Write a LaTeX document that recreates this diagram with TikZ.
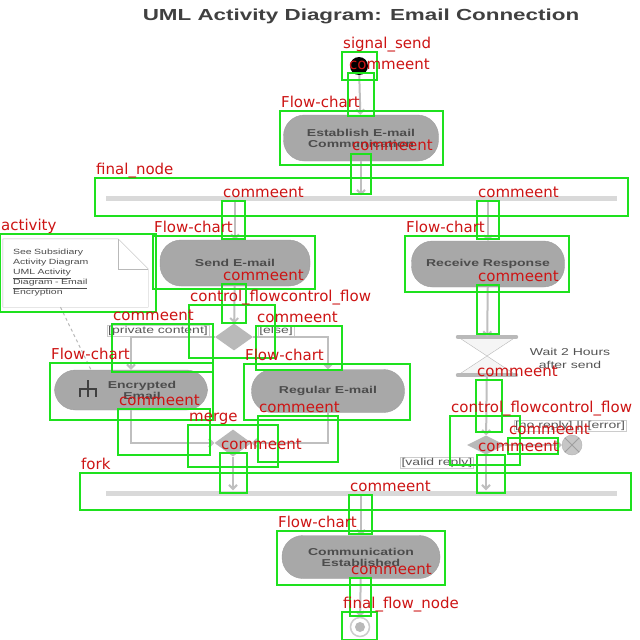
\documentclass[tikz,border=0pt]{standalone}
\usepackage{fontspec}
\setmainfont{Liberation Sans}[FakeStretch=1.4]
\newfontfamily\annfont{DejaVu Sans}
\usetikzlibrary{arrows.meta,shapes.geometric}
\definecolor{boxgreen}{RGB}{30,225,30}
\definecolor{annred}{RGB}{205,20,20}
\definecolor{actgray}{RGB}{168,168,168}
\begin{document}
\begin{tikzpicture}[x=1pt,y=-1pt,
    act/.style={draw=gray!75, fill=actgray, rounded corners=21pt, minimum width=155pt,
      minimum height=46pt, align=center, text=black!70, font=\fontsize{10}{11}\selectfont\bfseries},
    bar/.style={fill=gray!30, minimum width=511pt, minimum height=5pt, inner sep=0pt},
    dec/.style={diamond, fill=gray!55, minimum width=38pt, minimum height=27pt, inner sep=0pt},
    guard/.style={draw=gray!40, text=gray!70!black, font=\fontsize{10}{10}\selectfont, inner sep=1pt},
    flow/.style={draw=gray!50, line width=2pt, -{Straight Barb[length=4pt,width=8pt]}},
    gbox/.style={draw=boxgreen, line width=2pt},
    lbl/.style={text=annred, font=\fontsize{15}{15}\selectfont\annfont, anchor=base west, inner sep=0pt}]
  \fill[white] (0,0) rectangle (640,640);
  \useasboundingbox (0,0) rectangle (640,640);
  \node (title) [font=\fontsize{16}{16}\selectfont\bfseries, text=black!75] at (361,16)
    {UML Activity Diagram: Email Connection};

  \draw
    (359,66) node[circle, fill=black, minimum size=18pt, inner sep=0pt] (init) {}
    (361,138) node[act] (est) {Establish E-mail\\Communication}
    (361,198) node[bar] (fork1) {}
    (235,263) node[act, minimum width=150pt] (send) {Send E-mail}
    (488,264) node[act, minimum width=153pt] (recv) {Receive Response}
    (234,337) node[dec] (dec1) {}
    (131,390) node[act, minimum width=153pt, minimum height=40pt] (enc)
      {\hspace*{22pt}Encrypted\\\hspace*{22pt}Email}
    (328,391) node[act, minimum width=153pt, minimum height=43pt] (reg) {Regular E-mail}
    (233,443) node[dec, minimum width=37pt] (merge) {}
    (487,356) node[minimum width=58pt, minimum height=38pt, inner sep=0pt] (wait) {}
    (486,445) node[dec, minimum height=19pt] (dec2) {}
    (572,445) node[circle, draw=gray!60, fill=gray!45, minimum size=20pt, inner sep=0pt] (endf) {}
    (361,493) node[bar] (fork2) {}
    (361,557) node[act, minimum width=158pt, minimum height=43pt] (comm) {Communication\\Established}
    (360,627) node[circle, draw=gray!40, line width=1.5pt, minimum size=19pt, inner sep=0pt] (final) {};

  % note with folded corner
  \node (note) [minimum width=145pt, minimum height=68pt, text width=125pt, align=left,
    font=\fontsize{7.5}{10}\selectfont, text=gray!60!black] at (75.5,273)
    {See Subsidiary\\Activity Diagram\\\underline{UML Activity}\\\underline{Diagram - Email}\\Encryption};
  \draw[gray!55] (note.south west) -- (note.north west) -- ([xshift=-30pt]note.north east)
    -- ([yshift=-30pt]note.north east) -- (note.south east) -- cycle;
  \draw[gray!55] ([xshift=-30pt]note.north east) -- ([xshift=-30pt,yshift=-30pt]note.north east)
    -- ([yshift=-30pt]note.north east);

  % guards and labels
  \node[guard] (g1) at (158,331) {[private content]};
  \node[guard] (g2) at (276,331) {[else]};
  \node[guard] (g3) at (570,426) {[no reply] || [error]};
  \node[guard] (g4) at (437,463) {[valid reply]};
  \node (waitlbl) [align=center, text=gray!65!black, font=\fontsize{10}{13}\selectfont] at (570,358)
    {Wait 2 Hours\\after send};

  % hourglass, end of flow, final node, sub-activity rake
  \draw[gray!55, fill=gray!8] (wait.north west) -- (wait.north east) -- (wait.south west)
    -- (wait.south east) -- cycle;
  \draw[gray!55, line width=4pt, line cap=round] (wait.north west) -- (wait.north east)
    (wait.south west) -- (wait.south east);
  \draw[gray!75, line width=1pt] (endf.north west) -- (endf.south east)
    (endf.north east) -- (endf.south west);
  \fill[gray!55] (final) circle (5pt);
  \draw[gray!50!black, line width=1.2pt] (80,397) -- (80,389) -- (96,389) -- (96,397)
    (88,380) -- (88,397);

  \begin{scope}[flow]
    \draw (init) -- (est);
    \draw (est) -- (est |- fork1.north);
    \draw (fork1.south -| send) -- (send);
    \draw (fork1.south -| recv) -- (recv);
    \draw (send) -- (dec1);
    \draw (dec1.west) -| (enc.north);
    \draw (dec1.east) -| (reg.north);
    \draw (enc.south) |- (merge.west);
    \draw (reg.south) |- (merge.east);
    \draw (merge) -- (merge |- fork2.north);
    \draw (recv) -- (wait);
    \draw (wait) -- (dec2);
    \draw (dec2) -- (endf);
    \draw (dec2) -- (dec2 |- fork2.north);
    \draw (fork2) -- (comm);
    \draw (comm) -- (final);
  \end{scope}
  \draw[gray!55, dashed, line width=1pt] ([xshift=-15pt]note.south) -- ([xshift=-40pt]enc.north);

  % detection boxes
  \foreach \xa/\ya/\xb/\yb/\txt [count=\i] in {
      342/52/377/80/signal\_send,
      348/73/374/116/commeent,
      280/111/443/165/Flow-chart,
      351/154/371/194/commeent,
      95/178/628/216/final\_node,
      222/201/245/239/commeent,
      477/201/499/239/commeent,
      0/234/156/312/activity,
      153/236/315/289/Flow-chart,
      405/236/569/292/Flow-chart,
      222/284/246/323/commeent,
      477/285/499/334/commeent,
      189/305/275/358/control\_flowcontrol\_flow,
      112/324/213/372/commeent,
      256/326/342/370/commeent,
      50/363/213/420/Flow-chart,
      244/364/410/420/Flow-chart,
      476/380/502/432/commeent,
      118/409/210/455/commeent,
      258/416/338/462/commeent,
      450/416/520/465/control\_flowcontrol\_flow,
      188/425/278/467/merge,
      508/438/558/454/commeent,
      220/453/247/493/commeent,
      477/455/505/493/commeent,
      80/473/631/510/fork,
      349/495/372/534/commeent,
      277/531/445/585/Flow-chart,
      350/578/371/616/commeent,
      342/612/377/640/final\_flow\_node}
  {
    \draw[gbox] (\xa,\ya) rectangle (\xb,\yb);
    \node[lbl] (lbl\i) at (\xa+1,\ya-4) {\txt};
  }
\end{tikzpicture}
\end{document}
